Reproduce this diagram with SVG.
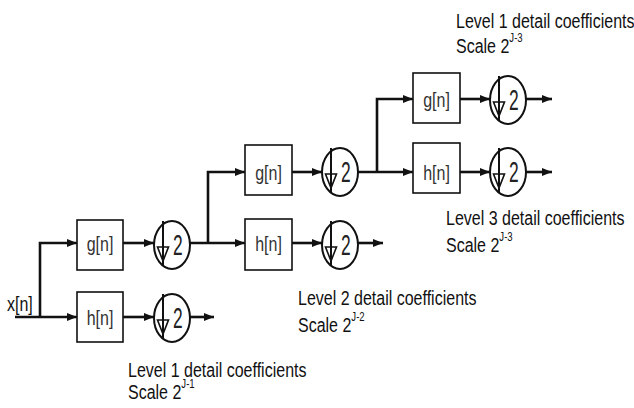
<svg xmlns="http://www.w3.org/2000/svg" width="634" height="408" viewBox="0 0 634 408">
<defs>
<style>
.bg{fill:#fff}
.box{fill:#fff;stroke:#111;stroke-width:1.6}
.ds{fill:#fff;stroke:#111;stroke-width:2}
.dl{fill:none;stroke:#111;stroke-width:2}
.tri{fill:none;stroke:#111;stroke-width:1.6;stroke-linejoin:miter}
.wire{fill:none;stroke:#111;stroke-width:2.6}
.bt{font-family:"Liberation Sans",Arial,sans-serif;font-size:20px;fill:#333;text-anchor:middle}
.two{font-family:"Liberation Sans",Arial,sans-serif;font-size:29px;fill:#222}
.lab{font-family:"Liberation Sans",Arial,sans-serif;font-size:20px;fill:#111}
.sup{font-size:12px}
</style>
<marker id="ah" markerUnits="userSpaceOnUse" markerWidth="10" markerHeight="10" viewBox="0 0 10 10" refX="10" refY="5" orient="auto">
<path d="M0,1 L10,5 L0,9 Z" fill="#111"/>
</marker>
<g id="dsym">
<ellipse class="ds" cx="0" cy="0" rx="18" ry="24"/>
<line class="dl" x1="-9" y1="-24" x2="-9" y2="21"/>
<path class="tri" d="M-14.5,2 L-3.5,2 L-9,16 Z"/>
<text class="two" transform="matrix(0.6,0,0,1,1,10)">2</text>
</g>
</defs>
<rect class="bg" x="0" y="0" width="634" height="408"/>

<g id="connectors">
<path class="wire" d="M15,317 H77" marker-end="url(#ah)"/>
<path class="wire" d="M40,317 V243 H77" marker-end="url(#ah)"/>
<path class="wire" d="M123,243 H154" marker-end="url(#ah)"/>
<path class="wire" d="M123,317 H154" marker-end="url(#ah)"/>
<path class="wire" d="M190,317 H214" marker-end="url(#ah)"/>
<path class="wire" d="M190,243 H245" marker-end="url(#ah)"/>
<path class="wire" d="M208,243 V172 H245" marker-end="url(#ah)"/>
<path class="wire" d="M292,172 H322" marker-end="url(#ah)"/>
<path class="wire" d="M292,243 H322" marker-end="url(#ah)"/>
<path class="wire" d="M358,243 H383" marker-end="url(#ah)"/>
<path class="wire" d="M358,172 H413" marker-end="url(#ah)"/>
<path class="wire" d="M377,172 V99 H413" marker-end="url(#ah)"/>
<path class="wire" d="M460,99 H490" marker-end="url(#ah)"/>
<path class="wire" d="M460,172 H490" marker-end="url(#ah)"/>
<path class="wire" d="M526,99 H552" marker-end="url(#ah)"/>
<path class="wire" d="M526,172 H552" marker-end="url(#ah)"/>
</g>

<g id="input"><text class="lab" transform="matrix(0.8,0,0,1,7,311)">x[n]</text></g>

<g id="g1"><rect class="box" x="77" y="220" width="46" height="50"/><text class="bt" transform="matrix(0.8,0,0,1,100,251)">g[n]</text></g>
<g id="h1"><rect class="box" x="77" y="292" width="46" height="50"/><text class="bt" transform="matrix(0.8,0,0,1,100,325)">h[n]</text></g>
<g id="d1g"><use href="#dsym" x="172" y="245"/></g>
<g id="d1h"><use href="#dsym" x="172" y="318"/></g>

<g id="g2"><rect class="box" x="245" y="145" width="47" height="50"/><text class="bt" transform="matrix(0.8,0,0,1,268.5,180)">g[n]</text></g>
<g id="h2"><rect class="box" x="245" y="219" width="47" height="51"/><text class="bt" transform="matrix(0.8,0,0,1,268.5,251)">h[n]</text></g>
<g id="d2g"><use href="#dsym" x="340" y="172"/></g>
<g id="d2h"><use href="#dsym" x="340" y="245"/></g>

<g id="g3"><rect class="box" x="413" y="73" width="47" height="50"/><text class="bt" transform="matrix(0.8,0,0,1,436.5,107)">g[n]</text></g>
<g id="h3"><rect class="box" x="413" y="143" width="47" height="50"/><text class="bt" transform="matrix(0.8,0,0,1,436.5,180)">h[n]</text></g>
<g id="d3g"><use href="#dsym" x="508" y="100"/></g>
<g id="d3h"><use href="#dsym" x="508" y="172"/></g>

<g id="label-top">
<text class="lab" transform="matrix(0.8,0,0,1,456,28)">Level 1 detail coefficients</text>
<text class="lab" transform="matrix(0.8,0,0,1,456,53)">Scale 2<tspan class="sup" dy="-11">J-3</tspan></text>
</g>
<g id="label-l3">
<text class="lab" transform="matrix(0.8,0,0,1,446,225)">Level 3 detail coefficients</text>
<text class="lab" transform="matrix(0.8,0,0,1,446,252)">Scale 2<tspan class="sup" dy="-11">J-3</tspan></text>
</g>
<g id="label-l2">
<text class="lab" transform="matrix(0.8,0,0,1,298,305)">Level 2 detail coefficients</text>
<text class="lab" transform="matrix(0.8,0,0,1,298,332)">Scale 2<tspan class="sup" dy="-11">J-2</tspan></text>
</g>
<g id="label-l1">
<text class="lab" transform="matrix(0.8,0,0,1,128,377)">Level 1 detail coefficients</text>
<text class="lab" transform="matrix(0.8,0,0,1,128,399)">Scale 2<tspan class="sup" dy="-11">J-1</tspan></text>
</g>
</svg>
